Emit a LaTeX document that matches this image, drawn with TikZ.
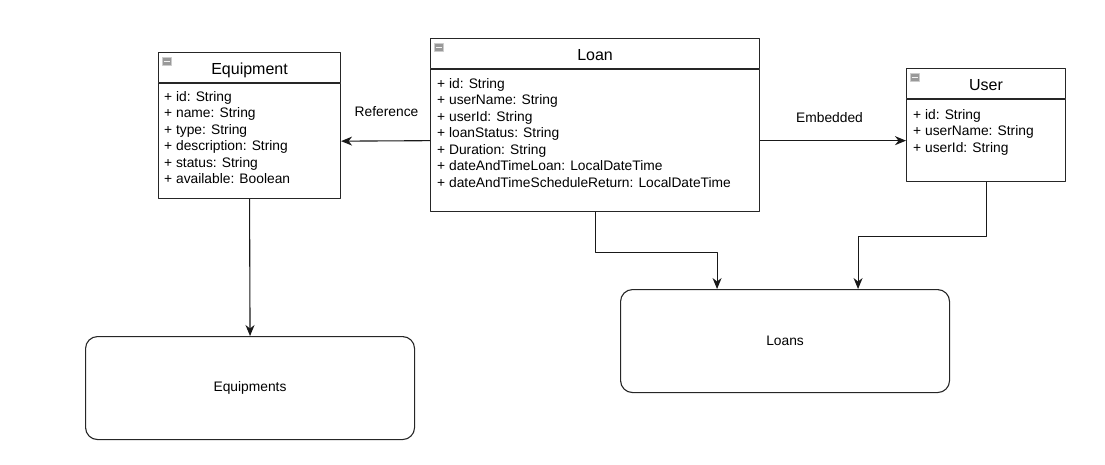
\documentclass[tikz,border=0pt]{standalone}
\usepackage{fontspec}
\setmainfont{Liberation Sans}
\usetikzlibrary{arrows.meta}

\begin{document}
\begin{tikzpicture}[x=1pt, y=-1pt, line join=round, >={Stealth[length=11pt,width=9pt,inset=3.5pt]}, font=\fontsize{13.8}{16.5}\selectfont]
	\tikzset{classbox/.style={draw=black!85, line width=1.1pt, anchor=north west, inner sep=0pt},
		tablebox/.style={draw=black!85, line width=1.1pt, rounded corners=12pt, anchor=north west, inner sep=0pt},
		title/.style={font=\fontsize{16}{19}\selectfont, anchor=base},
		attr/.style={anchor=base west, inner sep=0pt},
		link/.style={->, line width=1.1pt, black!90},
		icon/.style={fill=gray!80, draw=gray!40, line width=0.7pt}}
	\useasboundingbox (0,0) rectangle (1105,464);
	% classes
	\node[classbox, minimum width=182pt, minimum height=30pt] (equiphead) at (158,52) {};
	\node[classbox, minimum width=182pt, minimum height=115pt] (equip) at (equiphead.south west) {};
	\node[classbox, minimum width=329pt, minimum height=30pt] (loanhead) at (430,38) {};
	\node[classbox, minimum width=329pt, minimum height=142pt] (loan) at (loanhead.south west) {};
	\node[classbox, minimum width=159pt, minimum height=30pt] (userhead) at (906,68) {};
	\node[classbox, minimum width=159pt, minimum height=82pt] (user) at (userhead.south west) {};
	\node[title] (equipname) at ([yshift=-7pt]equiphead.center) {Equipment};
	\node[title] (loanname) at ([yshift=-7pt]loanhead.center) {Loan};
	\node[title] (username) at ([yshift=-7pt]userhead.center) {User};
	\foreach \b in {equiphead,loanhead,userhead}{
		\draw[icon] ([shift={(4pt,-5pt)}]\b.north west) rectangle +(9,8);
		\draw[white!90!gray, line width=0.9pt] ([shift={(5.5pt,-9pt)}]\b.north west) -- +(6,0);
	}
	% attributes
	\foreach \t [count=\i] in {+ id: String, + name: String, + type: String, + description: String, + status: String, + available: Boolean}
	\node[attr] (equip-\i) at (164,{84.5+16.5*\i}) {\t};
	\foreach \t [count=\i] in {+ id: String, + userName: String, + userId: String, + loanStatus: String, + Duration: String, + dateAndTimeLoan: LocalDateTime, + dateAndTimeScheduleReturn: LocalDateTime}
	\node[attr] (loan-\i) at (437,{71.5+16.5*\i}) {\t};
	\foreach \t [count=\i] in {+ id: String, + userName: String, + userId: String}
	\node[attr] (user-\i) at (913,{102.5+16.5*\i}) {\t};
	% collections
	\node[tablebox, minimum width=329pt, minimum height=103pt] (equipments) at (85,336) {Equipments};
	\node[tablebox, minimum width=329pt, minimum height=103pt] (loans) at (620,289) {Loans};
	% links
	\draw[link] (loan.west) -- (equip.east);
	\draw[link] (loan.east) -- (user.west);
	\node[anchor=base] (reflabel) at (386.5,116) {Reference};
	\node[anchor=base] (emblabel) at (829.5,122.5) {Embedded};
	\draw[link] (equip.south) -- (equipments.north);
	\draw[link] (loan.south) -- ++(0,40) -| ([xshift=-68pt]loans.north);
	\draw[link] (user.south) -- ++(0,54) -| ([xshift=73pt]loans.north);
\end{tikzpicture}
\end{document}
